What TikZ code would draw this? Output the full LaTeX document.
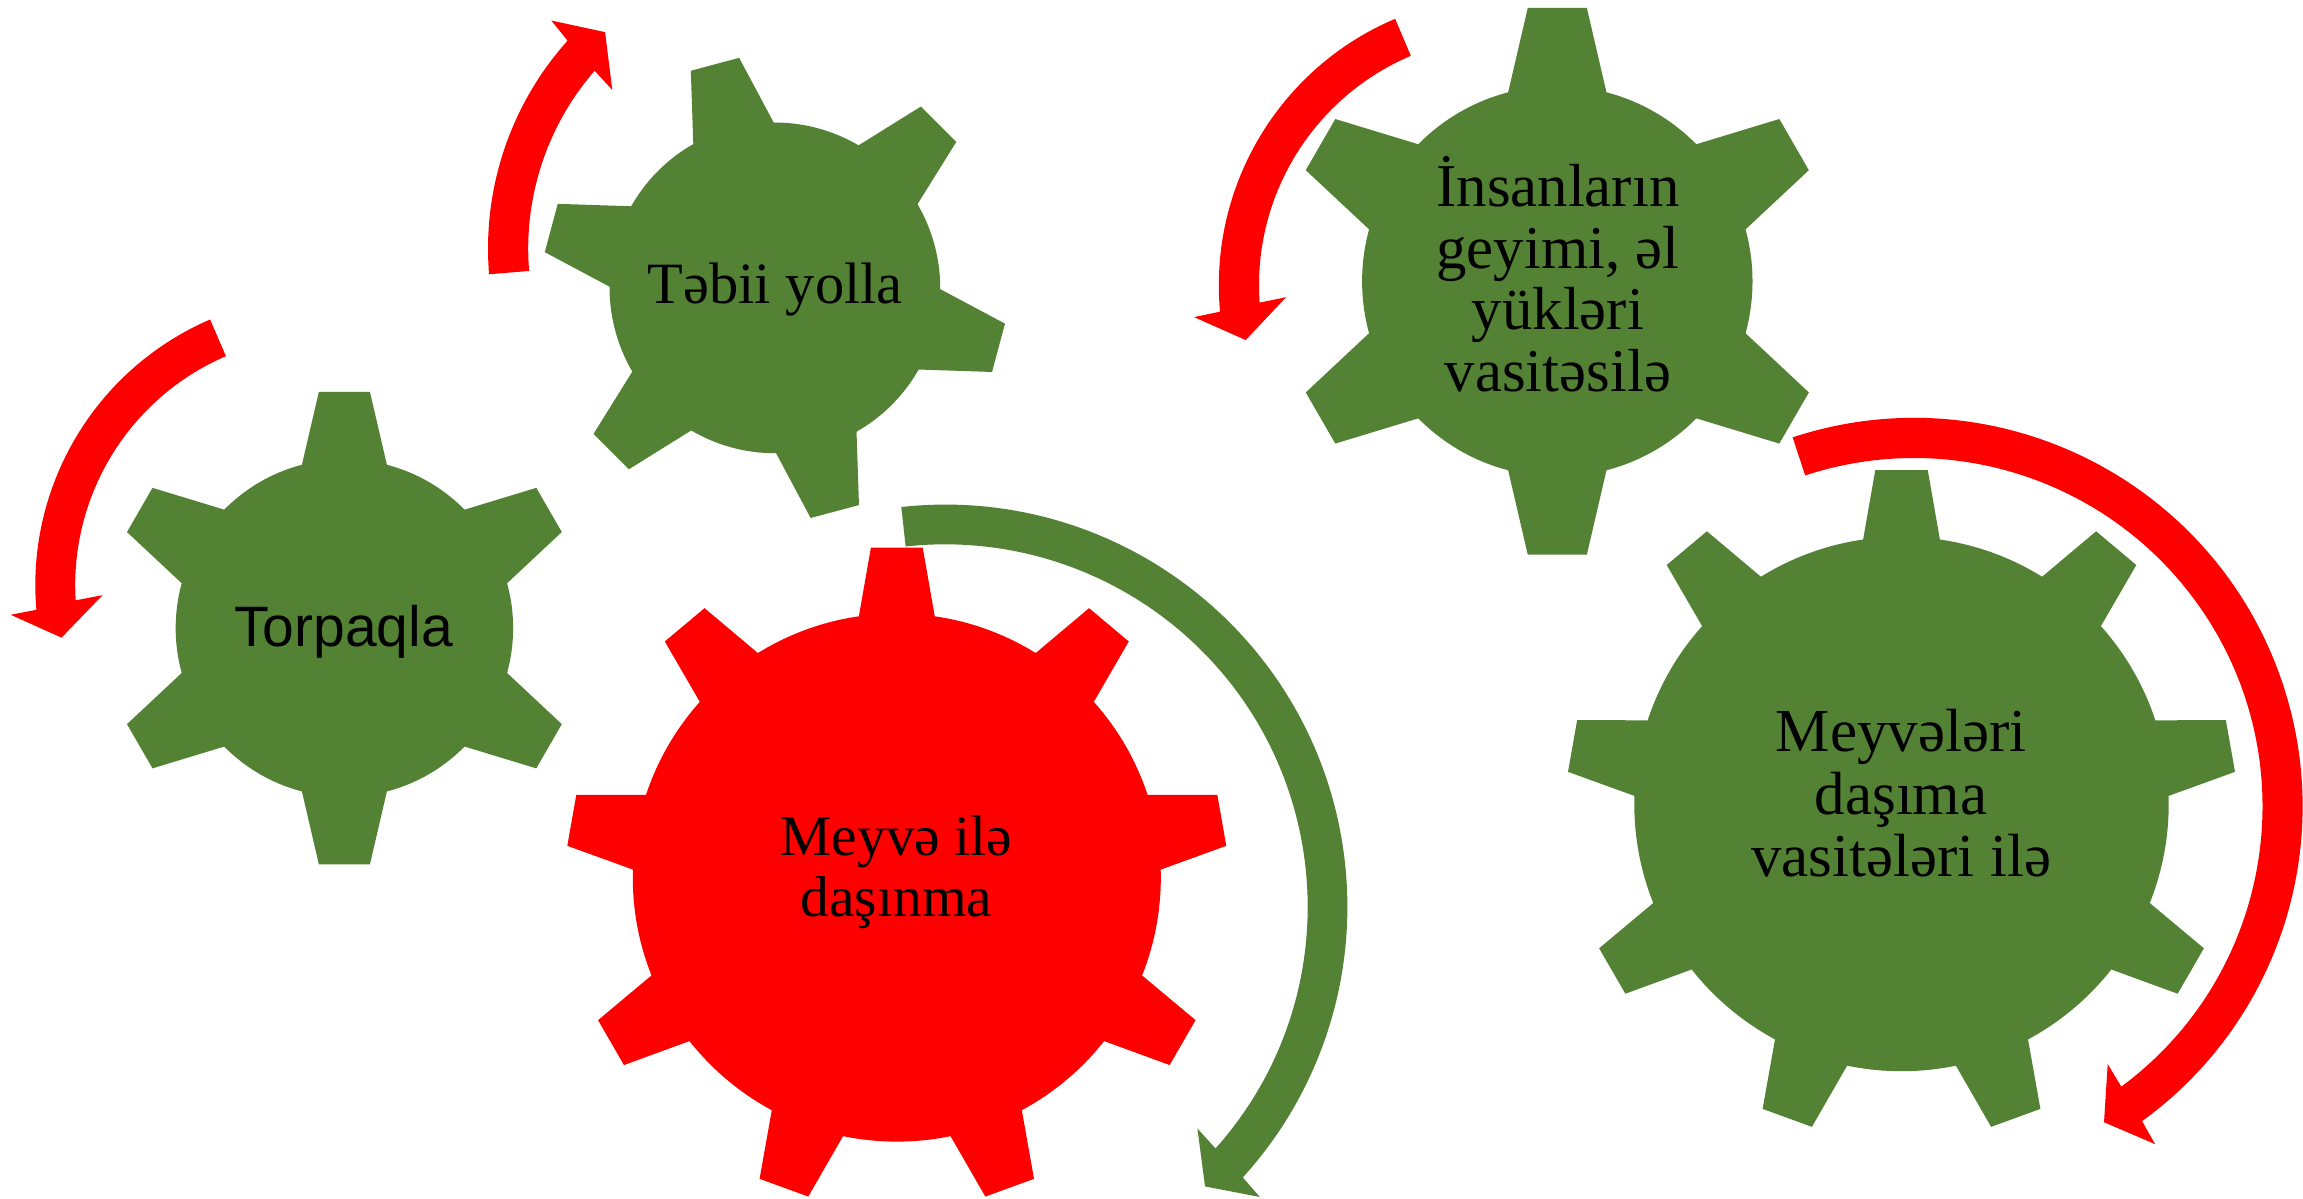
\documentclass[tikz,border=0pt]{standalone}
\usepackage{fontspec}
\setmainfont{Liberation Serif}
\newfontfamily\arialfont{Liberation Sans}
\definecolor{gearGreen}{HTML}{548235}
\definecolor{gearRed}{HTML}{FF0000}
% six-tooth gear: x, y, outer radius, rotation, colour
\newcommand{\gearSix}[5]{%
  \begin{scope}[shift={(#1,#2)},rotate=#4]
    \fill[#5] (0,0) circle[radius={0.714*#3}];
    \foreach \k in {0,...,5}{%
      \fill[#5,rotate={90+60*\k}] ({0.6*#3},{-0.201*#3}) -- (#3,{-0.108*#3}) -- (#3,{0.108*#3}) -- ({0.6*#3},{0.201*#3}) -- cycle;}
  \end{scope}}
% nine-tooth gear: x, y, outer radius, rotation, colour
\newcommand{\gearNine}[5]{%
  \begin{scope}[shift={(#1,#2)},rotate=#4]
    \fill[#5] (0,0) circle[radius={0.80*#3}];
    \foreach \k in {0,...,8}{%
      \fill[#5,rotate={90+40*\k}] ({0.7*#3},{-0.131*#3}) -- (#3,{-0.0785*#3}) -- (#3,{0.0785*#3}) -- ({0.7*#3},{0.131*#3}) -- cycle;}
  \end{scope}}
\tikzset{
  redarrow/.style={fill=gearRed},
  greenarrow/.style={fill=gearGreen},
  geartext/.style={anchor=base, inner sep=0pt, text=black},
}
\begin{document}
\begin{tikzpicture}[x=1pt,y=1pt]
\useasboundingbox (0,0) rectangle (2303,-1199);
\fill[white] (0,0) rectangle (2303,-1199);

% gears
\gearSix{344.4}{-628.1}{236.3}{0}{gearGreen}
\gearSix{774.9}{-287.9}{231.5}{15}{gearGreen}
\gearSix{1557.3}{-281.3}{273.4}{0}{gearGreen}
\gearNine{896.8}{-877.6}{330}{0}{gearRed}
\gearNine{1901.5}{-804}{334}{0}{gearGreen}

% circular arrows
\fill[redarrow, shift={(324.5,-585.1)}]
  (113.3:289.2) arc[start angle=113.3, end angle=184.9, radius=289.2]
  -- (185.4:315.2) -- (191.3:268.2) -- (182.6:222.2) -- (183.5:249.3)
  arc[start angle=183.5, end angle=113.3, radius=249.3] -- cycle;
\fill[redarrow, shift={(799.2,-248.5)}]
  (184.75:311.2) arc[start angle=184.75, end angle=138.1, radius=311.2]
  -- (137.4:336.8) -- (131.9:290.7) -- (139.7:245.1) -- (139.0:271.0)
  arc[start angle=139.0, end angle=184.75, radius=271.0] -- cycle;
\fill[redarrow, shift={(1508.2,-285.2)}]
  (113.0:289.4) arc[start angle=113.0, end angle=185.25, radius=289.4]
  -- (185.8:315.8) -- (191.8:268.2) -- (183.1:222.5) -- (184.0:249.2)
  arc[start angle=184.0, end angle=113.0, radius=249.2] -- cycle;
\fill[greenarrow, shift={(945.1,-906.9)}]
  (96.25:402.3) arc[start angle=96.25, end angle=-42.26, radius=402.3]
  -- (-42.67:428.0) -- (-47.08:381.7) -- (-41.29:335.8) -- (-41.77:362.6)
  arc[start angle=-41.77, end angle=96.25, radius=362.6] -- cycle;
\fill[redarrow, shift={(1914.0,-806.5)}]
  (108.2:388.6) arc[start angle=108.2, end angle=-54.06, radius=388.6]
  -- (-54.47:414.9) -- (-58.96:368.5) -- (-53.06:322.3) -- (-53.5:348.5)
  arc[start angle=-53.5, end angle=108.2, radius=348.5] -- cycle;

% texts
\node[geartext, font={\arialfont\fontsize{57}{62}\selectfont}] (torpaqla) at (343.7,-646.3) {Torpaqla};
\node[geartext, font={\fontsize{58.5}{62}\selectfont}] (tebii) at (775.2,-303.6) {Təbii yolla};
\node[geartext, font={\fontsize{60.8}{61.6}\selectfont}] (insan) at (1557.9,-206.4)
  {\begin{tabular}[t]{@{}c@{}}İnsanların\\geyimi, əl\\yükləri\\vasitəsilə\end{tabular}};
\node[geartext, font={\fontsize{57.5}{61.6}\selectfont}] (meyve) at (896.5,-855.3)
  {\begin{tabular}[t]{@{}c@{}}Meyvə ilə\\daşınma\end{tabular}};
\node[geartext, font={\fontsize{61}{62.4}\selectfont}] (meyveleri) at (1901.1,-751.7)
  {\begin{tabular}[t]{@{}c@{}}Meyvələri\\daşıma\\vasitələri ilə\end{tabular}};
\end{tikzpicture}
\end{document}
